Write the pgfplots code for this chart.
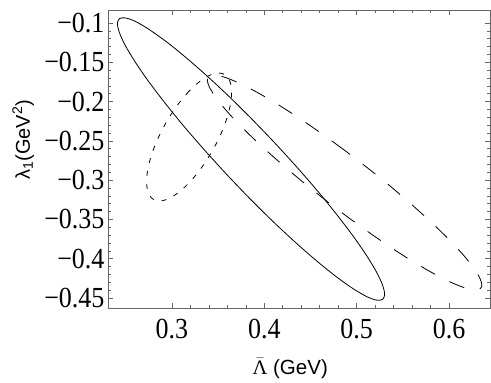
\documentclass[border=0pt]{standalone}
\usepackage{fontspec}
\setmainfont{Liberation Serif}
\newfontfamily\lsans{Liberation Sans}
\usepackage{pgfplots}
\pgfplotsset{compat=1.18}

\begin{document}
\begin{tikzpicture}
\begin{axis}[
    width=382pt, height=298pt, scale only axis,
    xmin=0.2307, xmax=0.6444,
    ymin=-0.4627, ymax=-0.0835,
    xtick={0.3,0.4,0.5,0.6},
    xticklabels={0.3,0.4,0.5,0.6},
    ytick={-0.45,-0.4,-0.35,-0.3,-0.25,-0.2,-0.15,-0.1},
    yticklabels={−0.45,−0.4,−0.35,−0.3,−0.25,−0.2,−0.15,−0.1},
    minor x tick num=4, minor y tick num=4,
    tick align=inside,
    major tick length=5pt, minor tick length=3pt,
    axis line style={black!60, line width=0.6pt},
    every tick/.style={black!60, line width=0.6pt},
    ticklabel style={font=\fontsize{26}{26}\selectfont, yscale=1.12},
    xticklabel shift=7pt,
    xlabel={$\bar{\mbox{\rmfamily Λ}}$ (GeV)},
    ylabel={λ\textsubscript{1}(GeV\textsuperscript{2})},
    every axis x label/.style={at={(axis description cs:0.477,-0.203)}, anchor=center,
        font=\lsans\fontsize{20.5}{20.5}\selectfont},
    every axis y label/.style={at={(axis description cs:-0.222,0.564)}, anchor=center, rotate=90,
        font=\lsans\fontsize{20}{20}\selectfont},
    clip=false,
]
% solid ellipse
\addplot[black, line width=0.8pt, smooth] coordinates {
(0.3856,-0.2212) (0.3605,-0.1921) (0.3361,-0.1655) (0.3132,-0.1421)
(0.2926,-0.1227) (0.2747,-0.1079) (0.2603,-0.0980) (0.2496,-0.0936)
(0.2431,-0.0945) (0.2409,-0.1009) (0.2431,-0.1125) (0.2496,-0.1290)
(0.2603,-0.1499) (0.2747,-0.1745) (0.2926,-0.2021) (0.3132,-0.2319)
(0.3361,-0.2629) (0.3605,-0.2943) (0.3856,-0.3250) (0.4107,-0.3541)
(0.4351,-0.3807) (0.4580,-0.4041) (0.4786,-0.4235) (0.4965,-0.4384)
(0.5109,-0.4482) (0.5216,-0.4527) (0.5281,-0.4517) (0.5303,-0.4453)
(0.5281,-0.4337) (0.5216,-0.4172) (0.5109,-0.3963) (0.4965,-0.3717)
(0.4786,-0.3441) (0.4580,-0.3143) (0.4351,-0.2833) (0.4107,-0.2519)
(0.3856,-0.2212)
};
% long-dashed ellipse
\addplot[black, line width=0.8pt, smooth, dash pattern=on 16pt off 16pt] coordinates {
(0.4869,-0.2620) (0.4611,-0.2400) (0.4361,-0.2198) (0.4126,-0.2022)
(0.3913,-0.1877) (0.3730,-0.1767) (0.3581,-0.1695) (0.3472,-0.1663)
(0.3405,-0.1673) (0.3382,-0.1725) (0.3405,-0.1816) (0.3472,-0.1944)
(0.3581,-0.2105) (0.3730,-0.2294) (0.3913,-0.2505) (0.4126,-0.2732)
(0.4361,-0.2969) (0.4611,-0.3207) (0.4869,-0.3440) (0.5127,-0.3660)
(0.5378,-0.3862) (0.5612,-0.4038) (0.5825,-0.4183) (0.6008,-0.4293)
(0.6157,-0.4365) (0.6266,-0.4396) (0.6333,-0.4386) (0.6356,-0.4335)
(0.6333,-0.4244) (0.6266,-0.4116) (0.6157,-0.3955) (0.6008,-0.3766)
(0.5825,-0.3555) (0.5612,-0.3328) (0.5378,-0.3091) (0.5127,-0.2853)
(0.4869,-0.2620)
};
% short-dashed ellipse
\addplot[black, line width=0.8pt, smooth, dash pattern=on 5pt off 8pt] coordinates {
(0.3185,-0.1868) (0.3105,-0.1976) (0.3028,-0.2098) (0.2955,-0.2231)
(0.2889,-0.2370) (0.2832,-0.2512) (0.2786,-0.2652) (0.2752,-0.2786)
(0.2732,-0.2910) (0.2725,-0.3020) (0.2732,-0.3112) (0.2752,-0.3185)
(0.2786,-0.3235) (0.2832,-0.3261) (0.2889,-0.3263) (0.2955,-0.3240)
(0.3028,-0.3193) (0.3105,-0.3124) (0.3185,-0.3034) (0.3265,-0.2926)
(0.3343,-0.2804) (0.3415,-0.2671) (0.3481,-0.2532) (0.3538,-0.2390)
(0.3584,-0.2250) (0.3618,-0.2116) (0.3639,-0.1992) (0.3646,-0.1882)
(0.3639,-0.1790) (0.3618,-0.1717) (0.3584,-0.1667) (0.3538,-0.1641)
(0.3481,-0.1639) (0.3415,-0.1662) (0.3343,-0.1709) (0.3265,-0.1778)
(0.3185,-0.1868)
};
\coordinate (bl) at (rel axis cs:0,0);
\coordinate (tr) at (rel axis cs:1,1);
\end{axis}
\path (bl) ++(-108pt,-74pt);
\path (tr) ++(1pt,10pt);
\end{tikzpicture}
\end{document}
